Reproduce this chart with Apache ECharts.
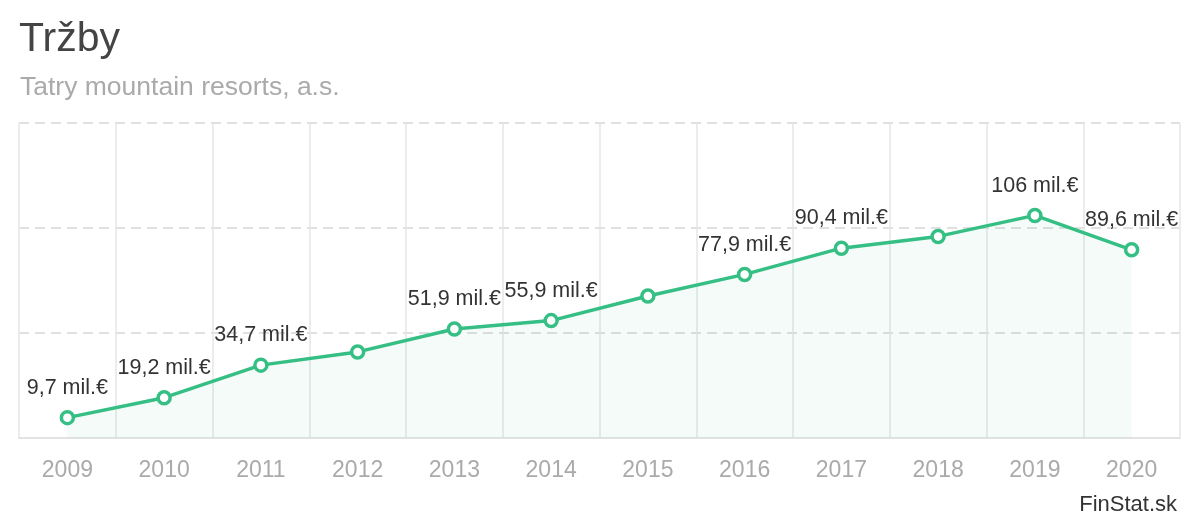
<!DOCTYPE html>
<html>
<head>
<meta charset="utf-8">
<script src="https://cdn.jsdelivr.net/npm/echarts@6/dist/echarts.min.js"></script>
<style>html,body{margin:0;padding:0;background:#fff;}#c{width:1200px;height:520px;}</style>
</head>
<body>
<div id="c"></div>
<script>
const years = ['2009','2010','2011','2012','2013','2014','2015','2016','2017','2018','2019','2020'];
const revenue = [9.7, 19.2, 34.7, 41.0, 51.9, 55.9, 67.6, 77.9, 90.4, 96.0, 106, 89.6];
const showLabel = [true, true, true, false, true, true, false, true, true, false, true, true];
const yTicks = [0, 50, 100, 150];

function fmt(v) {
  const s = (Math.round(v * 10) / 10).toString().replace('.', ',');
  return s + ' mil.€';
}

const chart = echarts.init(document.getElementById('c'), null, {renderer: 'canvas'});
const font = 'Liberation Sans, Arial, sans-serif';
chart.setOption({
  animation: false,
  backgroundColor: '#fff',
  title: [
    {text: 'Tržby', left: 14, top: 14, textStyle: {fontFamily: font, fontSize: 41, fontWeight: 'normal', color: '#444'}},
    {text: 'Tatry mountain resorts, a.s.', left: 15, top: 69, textStyle: {fontFamily: font, fontSize: 26.5, fontWeight: 'normal', color: '#aaa'}},
    {text: 'FinStat.sk', right: 18, top: 489, textStyle: {fontFamily: font, fontSize: 22, fontWeight: 'normal', color: '#333'}}
  ],
  grid: {left: 19, right: 20, top: 123, bottom: 82, containLabel: false},
  xAxis: {
    type: 'category',
    data: years,
    boundaryGap: true,
    axisLine: {show: true, lineStyle: {color: '#e3e3e3', width: 2}},
    axisTick: {show: false},
    axisLabel: {fontFamily: font, fontSize: 23, color: '#aaa', margin: 21},
    splitLine: {show: true, lineStyle: {color: '#e1e8e6', width: 1.5}}
  },
  yAxis: {
    type: 'value',
    min: yTicks[0],
    max: yTicks[yTicks.length - 1],
    interval: yTicks[1] - yTicks[0],
    axisLabel: {show: false},
    axisLine: {show: false},
    axisTick: {show: false},
    splitLine: {show: true, lineStyle: {color: '#e0e0e0', type: [10, 6], width: 2}}
  },
  series: [{
    type: 'line',
    data: revenue.map((v, i) => ({value: v, label: {show: showLabel[i]}})),
    symbol: 'circle',
    symbolSize: 12,
    showAllSymbol: true,
    lineStyle: {color: '#36bf85', width: 3.5},
    itemStyle: {color: '#fff', borderColor: '#36bf85', borderWidth: 3.5},
    areaStyle: {color: 'rgba(54,191,133,0.08)'},
    label: {
      show: true,
      position: 'top',
      distance: 11,
      fontFamily: font,
      fontSize: 21.5,
      color: '#333',
      formatter: p => fmt(p.value)
    }
  }]
});
</script>
</body>
</html>
